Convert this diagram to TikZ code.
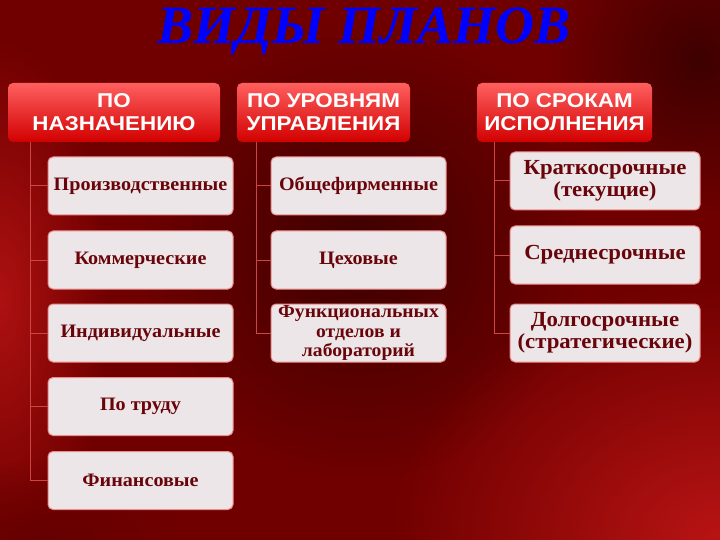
\documentclass[tikz,border=0pt]{standalone}
\usepackage{fontspec}
\setmainfont{Liberation Serif}
\newfontfamily\hdrfont[FakeStretch=1.12]{Liberation Sans}
\newfontfamily\boxfont[FakeStretch=1.06]{Liberation Serif}
\usetikzlibrary{fadings}
\tikzfading[name=softout, inner color=transparent!0, outer color=transparent!100]
\definecolor{bgbase}{RGB}{112,0,0}
\definecolor{bgbright}{RGB}{185,20,20}
\definecolor{bgdark}{RGB}{62,0,0}
\definecolor{hdrtop}{RGB}{255,95,95}
\definecolor{hdrbot}{RGB}{210,0,0}
\definecolor{boxfill}{RGB}{236,230,232}
\definecolor{boxedge}{RGB}{235,140,140}
\definecolor{boxtext}{RGB}{105,5,10}
\definecolor{connc}{RGB}{205,70,70}
\tikzset{
  hdr/.style={shade, top color=hdrtop, bottom color=hdrbot, rounded corners=5pt,
    minimum height=59pt, inner sep=2pt, align=center, text=white,
    font=\hdrfont\bfseries\fontsize{20}{23}\selectfont},
  child/.style={fill=boxfill, draw=boxedge, line width=1pt, rounded corners=5pt,
    minimum height=58pt, inner sep=1pt, align=center, text=boxtext,
    font=\boxfont\bfseries\fontsize{19}{19}\selectfont},
  bigchild/.style={child, font=\boxfont\bfseries\fontsize{21.5}{22}\selectfont},
  conn/.style={draw=connc, line width=1pt}
}
\begin{document}
\begin{tikzpicture}[x=1pt,y=-1pt]
\useasboundingbox (0,0) rectangle (720,540);
% background
\fill[bgbase] (0,0) rectangle (720,540);
\fill[bgdark, path fading=softout] (360,250) ellipse (230 and 230);
\fill[bgdark, path fading=softout] (700,60) ellipse (150 and 160);
\fill[bgbright, path fading=softout] (720,540) ellipse (330 and 260);
\fill[bgbright!85!bgbase, path fading=softout] (0,300) ellipse (110 and 260);
\fill[bgbase!80!bgdark, path fading=softout] (40,540) ellipse (140 and 80);
% title
\node[text=blue, anchor=base, inner sep=0pt, font=\bfseries\itshape\fontsize{54}{54}\selectfont] (title) at (364,44) {ВИДЫ ПЛАНОВ};
% headers
\node[hdr, minimum width=212pt] (h1) at (114,112.5) {ПО\\НАЗНАЧЕНИЮ};
\node[hdr, minimum width=173pt] (h2) at (323.5,112.5) {ПО УРОВНЯМ\\УПРАВЛЕНИЯ};
\node[hdr, minimum width=175pt] (h3) at (564.5,112.5) {ПО СРОКАМ\\ИСПОЛНЕНИЯ};
% column 1
\node[child, minimum width=185pt] (a1) at (140.5,186) {Производственные};
\node[child, minimum width=185pt] (a2) at (140.5,260) {Коммерческие};
\node[child, minimum width=185pt] (a3) at (140.5,333) {Индивидуальные};
\node[child, minimum width=185pt] (a4) at (140.5,406.5) {По труду};
\node[child, minimum width=185pt] (a5) at (140.5,480.5) {Финансовые};
% column 2
\node[child, minimum width=175pt] (b1) at (358.5,186) {Общефирменные};
\node[child, minimum width=175pt] (b2) at (358.5,260) {Цеховые};
\node[child, minimum width=175pt, inner ysep=0pt, font=\boxfont\bfseries\fontsize{18.5}{19.5}\selectfont] (b3) at (358.5,333) {Функциональных\\отделов и\\лабораторий};
% column 3
\node[bigchild, minimum width=190pt] (c1) at (605,181) {Краткосрочные\\(текущие)};
\node[bigchild, minimum width=190pt] (c2) at (605,255) {Среднесрочные};
\node[bigchild, minimum width=190pt] (c3) at (605,333) {Долгосрочные\\(стратегические)};
% trunks
\coordinate (t1) at (30,0);
\coordinate (t2) at (256,0);
\coordinate (t3) at (494,0);
\draw[conn] (h1.south -| t1) -- (t1 |- a5.west) -- (a5.west);
\foreach \n in {a1,a2,a3,a4} \draw[conn] (t1 |- \n.west) -- (\n.west);
\draw[conn] (h2.south -| t2) -- (t2 |- b3.west) -- (b3.west);
\foreach \n in {b1,b2} \draw[conn] (t2 |- \n.west) -- (\n.west);
\draw[conn] (h3.south -| t3) -- (t3 |- c3.west) -- (c3.west);
\foreach \n in {c1,c2} \draw[conn] (t3 |- \n.west) -- (\n.west);
\end{tikzpicture}
\end{document}
